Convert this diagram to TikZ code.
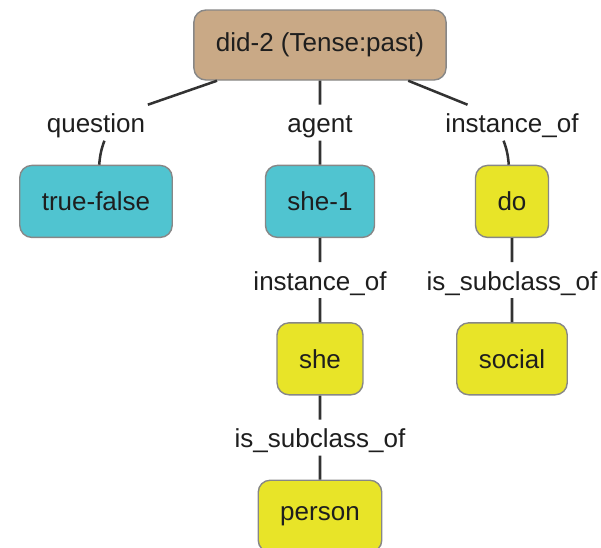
\documentclass[tikz,border=0pt]{standalone}
\usepackage{fontspec}
\setmainfont{Liberation Sans}
\usepackage{tikz}
\usetikzlibrary{positioning}
\definecolor{rootbrown}{RGB}{201,169,134}
\definecolor{agentcyan}{RGB}{80,196,208}
\definecolor{conceptyellow}{RGB}{232,228,40}
\definecolor{bordergray}{RGB}{135,135,135}
\definecolor{linkgray}{RGB}{50,50,50}
\definecolor{textgray}{RGB}{30,30,30}

\begin{document}
\begin{tikzpicture}[
  node distance=0.6cm,
  every node/.style={font=\fontsize{18.5}{22}\selectfont,text=textgray},
  mynode/.style={draw=bordergray,line width=1pt,rounded corners=0.3cm,minimum height=1.8cm,inner xsep=0.55cm},
  rootnode/.style={mynode,fill=rootbrown,minimum height=1.75cm},
  agentnode/.style={mynode,fill=agentcyan},
  conceptnode/.style={mynode,fill=conceptyellow},
  rel/.style={text height=0.55cm,text depth=0.05cm,inner sep=0pt,outer sep=0.15cm},
  link/.style={draw=linkgray,line width=1.8pt}
    ]
\useasboundingbox (-8,-12.575) rectangle (7.025,1.125);

\node[rootnode] (did) at (0,0) {did-2 (Tense:past)};
\node[rel,below=of did,xshift=-5.6cm] (question) {question};
\node[rel,below=of did] (agent) {agent};
\node[rel,below=of did,xshift=4.8cm] (inst) {instance\_of};
\node[agentnode,below=of question] (tf) {true-false};
\node[agentnode,below=of agent] (she1) {she-1};
\node[conceptnode,below=of inst] (do) {do};
\node[rel,below=of she1] (shei) {instance\_of};
\node[rel,below=of do] (dos) {is\_subclass\_of};
\node[conceptnode,below=of shei] (she) {she};
\node[conceptnode,below=of dos] (social) {social};
\node[rel,below=of she] (shes) {is\_subclass\_of};
\node[conceptnode,below=of shes] (person) {person};

\path[link] (did) -- (question)
(question.-65) to[out=-110,in=85] (tf)
(did) -- (agent)
(agent) -- (she1)
(did) -- (inst)
(inst.-115) to[out=-70,in=95] (do)
(she1) -- (shei)
(shei) -- (she)
(do) -- (dos)
(dos) -- (social)
(she) -- (shes)
(shes) -- (person);
\end{tikzpicture}
\end{document}
